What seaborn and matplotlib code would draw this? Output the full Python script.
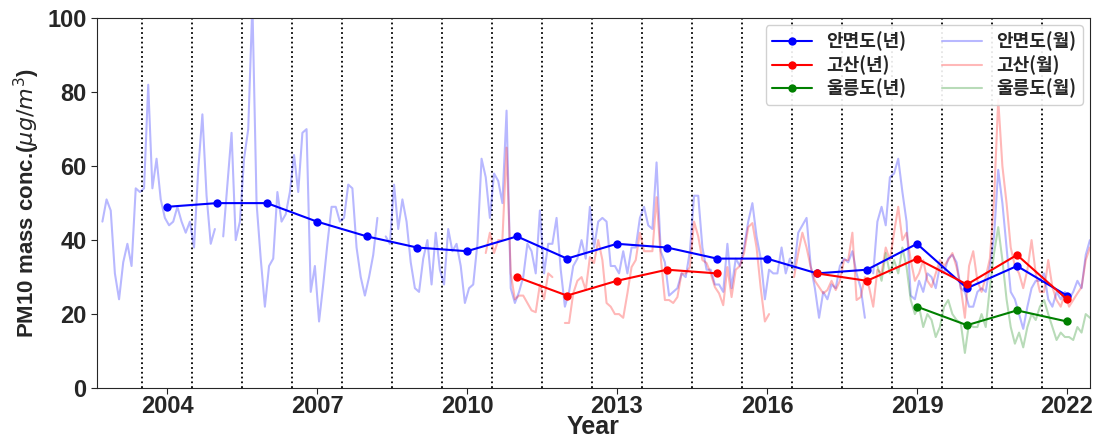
import numpy as np
import pandas as pd
import seaborn as sns
import matplotlib.pyplot as plt

nan = np.nan

# annual means, plotted at the year tick
years = list(range(2004, 2023))
anmyeon_year = [49, 50, 50, 45, 41, 38, 37, 41, 35, 39, 38, 35, 35, 31, 32, 39, 27, 33, 25]
gosan_year = [nan] * 7 + [30, 25, 29, 32, 31, nan, 31, 29, 35, 28, 36, 24]
ulleung_year = [nan] * 15 + [22, 17, 21, 18]

# monthly means (NaN = missing month)
anmyeon_start = '2003-03'
anmyeon_month = [
    45, 51, 48, 31, 24, 34, 39, 33, 54, 53,
    54, 82, 54, 62, 51, 46, 44, 45, 49, 45, 42, 45,
    38, 59, 74, 52, 39, 43, nan, 41, 55, 69, 40, 45,
    62, 70, 104, 50, 35, 22, 33, 35, 53, 45, 47, 53,
    63, 53, 69, 70, 26, 33, 18, 28, 39, 49, 49, 45,
    46, 55, 54, 38, 30, 25, 30, 36, 46, nan, 41, 39,
    55, 43, 51, 45, 34, 27, 26, 35, 40, 28, 42, 32,
    28, 43, 37, 39, 33, 23, 27, 28, 39, 62, 57, 46,
    58, 56, 50, 75, 27, 23, 26, 30, 39, 37, 31, 48,
    31, 39, 39, 46, 32, 22, 26, 33, 35, 40, 35, 49,
    38, 45, 46, 45, 33, 33, 31, 37, 31, 38, 38, 46,
    49, 44, 43, 61, 37, 34, 25, 26, 27, 31, 30, 37,
    52, 52, 38, 32, 32, 28, 28, 26, 39, 27, 35, 33,
    38, 45, 50, 41, 35, 24, 32, 31, 31, 38, 31, 35,
    32, 42, 44, 46, 33, 27, 19, 26, 24, 28, 27, 33,
    35, 34, 37, 31, 27, 19, nan, 31, 45, 49, 44, 57,
    58, 62, 53, 45, 25, 24, 29, 26, 31, 30, 27, 33,
    31, 35, 36, 34, 27, 26, 22, 22, 26, 27, 26, 33,
    41, 59, 50, 38, 26, 24, 20, 16, 22, 27, 29, 29,
    31, 24, 22, 26, 24, 26, 24, 26, 29, 27, 36, 40,
]
gosan_start = '2010-11'
gosan_month = [
    36.5, 42,
    36.5, 40, 40, 65, 31, 24, 25, 25, 23, 21, 20.5, 28,
    24, 31, 30, nan, nan, 17.6, 17.6, 25.6, 29, 30, 26.5, 35.4,
    33.8, 40, 34.6, 23, 22, 20, 20, 19, 25.6, 32.7, 34.6, 42,
    37, 37, 37, 51.6, 35.4, 23.8, 23.8, 23, 24.6, 31, 31, 32.7,
    45, 41, 34.6, 33.8, 31, 27.3, 25.6, 22.4, 32.7, 24.6, 32, 33,
    36.5, 43.5, 44.6, 38, 27, 18, 20, nan, nan, nan, nan, nan,
    30, 36.5, 42, 38, 32.7, 29, 27.3, 25.6, 26.5, 29, 26.5, 29,
    34.6, 34.6, 42, 23.8, 24.6, 30, 27.3, 22, 32, 31, 38, 34.6,
    42, 49, 40, 42, 34.6, 29, 31, 34.6, 29, 27.3, 31, 34.6,
    33, 34.6, 36.5, 32.7, 27.3, 19, 33, 37, 29, 26, 30, 35,
    51, 78, 60, 50, 38, 33, 31, 27, 32, 40, 31, 26,
    26, 34.6, 27.3, 23.8, 22, 25.6, 22, 23.8, 25.6, 27.3, 34.6, 38,
]
ulleung_start = '2018-09'
ulleung_month = [
    33, 29, 36.5, 31,
    34.6, 31, 38, 32.7, 23.8, 20, 22, 16.5, 20, 18.4, 13.8, 16.5,
    22, 23.8, 20, 18.4, 17.6, 9.5, 17.6, 16.5, 16.5, 20, 16.5, 27.3,
    36.5, 43.5, 34.6, 24, 16.5, 12, 15, 11, 16.5, 20, 18.4, 22,
    23.8, 20, 16.5, 13, 15, 13.8, 13.8, 13, 16.5, 15, 20, 19,
]


def split_gaps(x, v):
    v = pd.Series(v, dtype=float)
    df = pd.DataFrame({'x': np.asarray(x, dtype=float), 'v': v, 'seg': v.isna().cumsum()})
    return df.dropna()


def monthly_frame(start, values):
    idx = pd.date_range(start, periods=len(values), freq='MS')
    # year tick sits mid-year, Jan 1 falls on year - 0.5
    x = idx.year - 0.5 + (idx.month - 0.5) / 12
    return split_gaps(x, values)


sns.set_style('ticks')
plt.rcParams['font.family'] = ['Liberation Sans', 'Noto Sans CJK KR', 'DejaVu Sans']
plt.rcParams['font.weight'] = 'bold'
plt.rcParams['mathtext.fontset'] = 'custom'
plt.rcParams['mathtext.it'] = 'DejaVu Sans:style=italic:weight=normal'
plt.rcParams['mathtext.rm'] = 'DejaVu Sans:weight=normal'

fig, ax = plt.subplots(figsize=(10.97, 4.43), dpi=100)
fig.subplots_adjust(left=0.0884, right=0.9936, top=0.959, bottom=0.124)

monthly = [('안면도(월)', anmyeon_start, anmyeon_month, 'blue'),
           ('고산(월)', gosan_start, gosan_month, 'red'),
           ('울릉도(월)', ulleung_start, ulleung_month, 'green')]
yearly = [('안면도(년)', anmyeon_year, 'blue'),
          ('고산(년)', gosan_year, 'red'),
          ('울릉도(년)', ulleung_year, 'green')]

for name, start, vals, c in monthly:
    sns.lineplot(data=monthly_frame(start, vals), x='x', y='v', units='seg',
                 estimator=None, color=c, alpha=0.28, lw=1.5, label=name,
                 legend=False, ax=ax)

for name, vals, c in yearly:
    sns.lineplot(data=split_gaps(years, vals), x='x', y='v', units='seg',
                 estimator=None, color=c, lw=1.5, marker='o', markersize=6,
                 markeredgewidth=0, label=name, legend=False, ax=ax)

for y in years:
    ax.axvline(y - 0.5, color='black', ls=':', lw=1.3, zorder=0)

ax.set_xlim(2002.6, 2022.46)
ax.set_ylim(0, 100)
ax.set_xticks(years[::3])
ax.set_yticks(range(0, 101, 20))
ax.tick_params(axis='both', which='major', direction='out', length=4)
ax.tick_params(axis='x', pad=1)
for lab in ax.get_xticklabels():
    lab.set_fontsize(17)
    lab.set_fontweight('bold')
for lab in ax.get_yticklabels():
    lab.set_fontsize(17)
    lab.set_fontweight('bold')

ax.set_xlabel('Year', fontsize=18, fontweight='bold', labelpad=-2)
ax.set_ylabel(r'PM10 mass conc.($\mu g/m^3$)', fontsize=16, fontweight='bold')

h, l = ax.get_legend_handles_labels()
found = dict(zip(l, h))
order = [n for n, *_ in yearly] + [n for n, *_ in monthly]
ax.legend([found[n] for n in order], order, ncol=2, loc='upper right',
          prop=dict(family=['Noto Sans CJK KR'], weight='bold', size=13),
          handlelength=2.2, columnspacing=2.0, labelspacing=0.2,
          borderaxespad=0.4, borderpad=0.35, framealpha=0.9)

plt.savefig('out.png', dpi=100)
